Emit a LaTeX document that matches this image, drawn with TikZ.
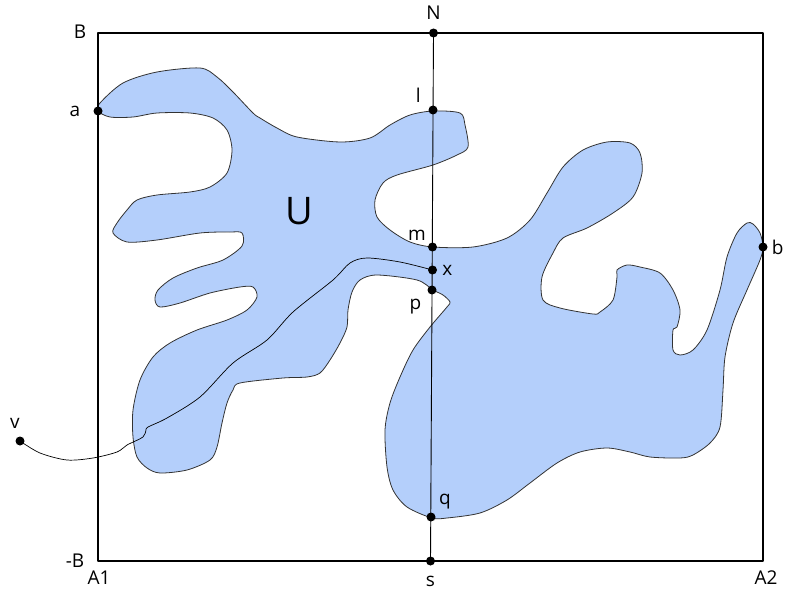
\documentclass[tikz,border=0pt]{standalone}
\usepackage{fontspec}
\setmainfont{Open Sans}
\definecolor{blobblue}{RGB}{180,207,251}
\tikzset{
  dot/.style={circle,fill=black,inner sep=0pt,minimum size=9pt},
  lbl/.style={font=\fontsize{19}{22}\selectfont,inner sep=1pt},
}
\begin{document}
\begin{tikzpicture}[x=1pt,y=-1pt, line join=round, line cap=round]
	\useasboundingbox (0,0) rectangle (787,599);
	% the region U
	\draw[fill=blobblue,draw=black!80,line width=0.8pt] plot[smooth cycle,tension=0.5] coordinates {
		(98,111) (100,103) (123,83) (157,72) (200,68) (217,77) (233,92) (253,113) (260,118)
		(277,128) (297,137) (340,142) (370,138) (390,125) (410,115) (433,111) (460,113)
		(465,125) (468,147) (457,155) (433,165) (397,175) (383,183) (375,200) (377,217)
		(390,230) (410,242) (433,247) (473,247) (507,238) (530,220) (547,193) (563,167)
		(583,150) (607,142) (630,143) (640,153) (642,173) (633,197) (613,213) (587,228)
		(563,238) (553,253) (542,277) (543,300) (560,308) (593,314) (600,312) (613,300)
		(617,277) (617,270) (627,265) (640,267) (660,273) (673,290) (680,310) (677,327)
		(673,330) (673,350) (680,355) (693,350) (707,330) (720,290) (727,257) (737,233)
		(747,223) (753,224) (760,233) (763,247) (760,260) (747,290) (733,323) (725,357)
		(723,390) (720,427) (710,443) (693,455) (680,458) (650,457) (630,452) (607,448)
		(580,452) (557,463) (530,483) (507,500) (480,513) (447,518) (432,518) (407,507)
		(393,490) (387,467) (385,430) (390,403) (400,377) (413,350) (430,327) (447,307)
		(450,302) (443,295) (433,290) (417,280) (377,275) (360,280) (352,292) (348,310)
		(347,327) (340,343) (330,360) (320,373) (307,377) (283,378) (240,383) (233,390)
		(227,403) (222,423) (217,447) (210,460) (187,470) (160,473) (147,468) (137,457)
		(133,437) (133,410) (140,380) (153,357) (170,343) (197,330) (227,320) (247,310)
		(257,297) (253,287) (240,287) (210,293) (180,303) (160,307) (155,300) (158,290)
		(173,278) (197,268) (223,260) (242,246) (242,233) (230,232) (200,233) (157,240)
		(127,242) (113,233) (117,223) (127,210) (137,200) (157,195) (190,192) (210,187)
		(227,173) (232,150) (227,130) (213,118) (190,113) (157,113) (133,117) (110,117)};
	\node[lbl,font=\fontsize{38}{42}\selectfont] (U) at (299,211) {U};
	% box
	\draw[line width=1.3pt] (98,33) rectangle (763,561);
	\node[lbl] (B) at (80,32) {B};
	\node[lbl] (mB) at (75,561) {-B};
	\node[lbl] (A1) at (99,578) {A1};
	\node[lbl] (A2) at (766,578) {A2};
	% points
	\node[dot,label={[lbl,label distance=8pt]above:N}] (N) at (433.5,33) {};
	\node[dot,label={[lbl,label distance=9pt]below:s}] (s) at (430.5,561) {};
	\node[dot,label={[lbl,label distance=4pt,xshift=-5pt]above left:l}] (l) at (433,110) {};
	\node[dot,label={[lbl,label distance=3pt]above left:m}] (m) at (432.5,247) {};
	\node[dot,label={[lbl,label distance=4pt]right:x}] (x) at (432.5,270) {};
	\node[dot,label={[lbl,label distance=3pt,xshift=-4pt,yshift=-2pt]below left:p}] (p) at (432,290) {};
	\node[dot,label={[lbl,label distance=5pt]above right:q}] (q) at (431,517) {};
	\node[dot,label={[lbl,label distance=12pt]left:a}] (a) at (98,111) {};
	\node[dot,label={[lbl,label distance=3pt]right:b}] (b) at (763,247) {};
	\node[dot,label={[lbl,label distance=7pt,xshift=-5pt]above:v}] (v) at (20,441) {};
	\draw[line width=0.9pt] (N.center) -- (s.center);
	% path from v to x
	\draw[line width=0.7pt] plot[smooth,tension=0.5] coordinates {
		(v.center) (40,453) (67,460) (93,458) (117,452) (127,445) (143,437) (146,430) (148,427)
		(167,418) (200,397) (233,363) (267,340) (293,312) (333,280) (350,263) (367,258)
		(400,262) (x.center)};
\end{tikzpicture}
\end{document}
